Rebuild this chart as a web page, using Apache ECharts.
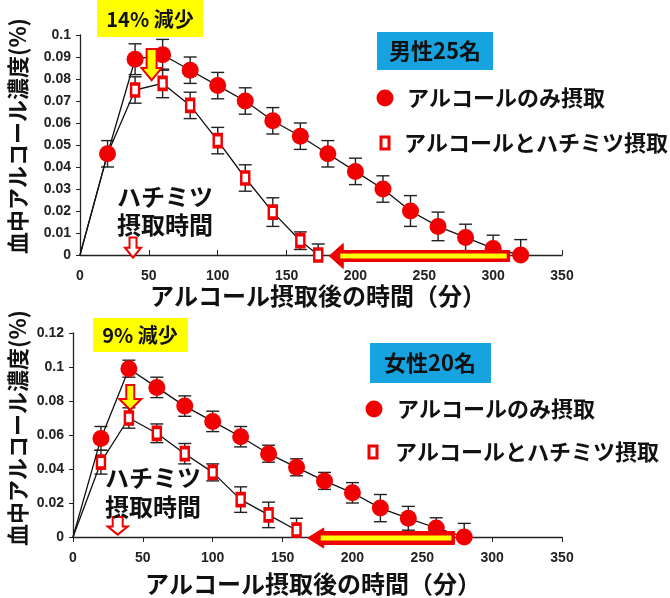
<!DOCTYPE html>
<html><head><meta charset="utf-8">
<script src="https://cdn.jsdelivr.net/npm/echarts@6/dist/echarts.min.js"></script>
<style>html,body{margin:0;padding:0;background:#fff}#c{width:670px;height:598px}</style>
</head><body><div id="c"></div>
<script>
// ---- data ----
const maleTimes = [20,40,60,80,100,120,140,160,180,200,220,240,260,280,300,320];
const maleAlcohol = [0.046,0.089,0.091,0.084,0.077,0.070,0.061,0.054,0.046,0.038,0.030,0.020,0.013,0.008,0.003,0.000];
const maleAlcoholErr = [0.006,0.007,0.007,0.006,0.006,0.006,0.006,0.006,0.006,0.006,0.006,0.007,0.0065,0.006,0.006,0.007];
const maleHoneyTimes = [20,40,60,80,100,120,140,160,173];
const maleHoney = [0.046,0.075,0.078,0.068,0.052,0.035,0.0195,0.0065,0.000];
const maleHoneyErr = [0,0.006,0.0065,0.006,0.006,0.006,0.0065,0.004,0.005];

const femaleTimes = [20,40,60,80,100,120,140,160,180,200,220,240,260,280];
const femaleAlcohol = [0.058,0.099,0.088,0.077,0.068,0.059,0.049,0.041,0.033,0.026,0.017,0.011,0.0053,0.000];
const femaleAlcoholErr = [0.007,0.005,0.006,0.006,0.006,0.006,0.005,0.005,0.005,0.006,0.008,0.007,0.006,0.008];
const femaleHoneyTimes = [20,40,60,80,100,120,140,160];
const femaleHoney = [0.044,0.070,0.061,0.049,0.038,0.022,0.013,0.004];
const femaleHoneyErr = [0.007,0.006,0.0055,0.006,0.005,0.0075,0.0075,0.007];

const groupLabels = ['男性25名','女性20名'];
const reductionLabels = ['14% 減少','9% 減少'];
const seriesNames = ['アルコールのみ摂取','アルコールとハチミツ摂取'];
const yTitle = '血中アルコール濃度(%)';
const xTitle = 'アルコール摂取後の時間（分）';
const honeyText = ['ハチミツ','摂取時間'];
// annotation anchors (data units)
const honeyIntakeTime = [38.5, 32];
const dropArrowX = [52, 41];

// ---- helpers ----
const RED = '#f00000';
const JP = '"Noto Sans CJK JP", sans-serif';
function lineData(times, vals, hideFirst){
  const d = [{value:[0,0], symbol:'none'}];
  times.forEach((t,i)=>{
    const item = {value:[t, vals[i]]};
    if (hideFirst && i===0) item.symbol = 'none';
    d.push(item);
  });
  return d;
}
function errData(times, vals, errs){
  return times.map((t,i)=>[t, vals[i], errs[i]]).filter(d=>d[2]>0);
}
function errRender(params, api){
  const x = api.value(0), y = api.value(1), e = api.value(2);
  const hi = api.coord([x, y+e]), lo = api.coord([x, y-e]);
  const w = 6.5, st = {stroke:'#222', lineWidth:1.4};
  return {type:'group', children:[
    {type:'line', shape:{x1:hi[0],y1:hi[1],x2:lo[0],y2:lo[1]}, style:st},
    {type:'line', shape:{x1:hi[0]-w,y1:hi[1],x2:hi[0]+w,y2:hi[1]}, style:st},
    {type:'line', shape:{x1:lo[0]-w,y1:lo[1],x2:lo[0]+w,y2:lo[1]}, style:st}
  ]};
}
function xAxisCfg(gi, inside){
  return {type:'value', gridIndex:gi, min:0, max:350, interval:50,
    axisLine:{show:true, onZero:false, lineStyle:{color:'#222', width:1.3}},
    axisTick:{show:true, inside:inside, length:5, lineStyle:{color:'#222'}},
    axisLabel:{color:'#222', fontFamily:'"Liberation Sans", Arial', fontWeight:'bold', fontSize:14, margin:14},
    splitLine:{show:false}};
}
function yAxisCfg(gi, max, interval){
  return {type:'value', gridIndex:gi, min:0, max:max, interval:interval,
    axisLine:{show:true, lineStyle:{color:'#222', width:1.3}},
    axisTick:{show:true, length:4, lineStyle:{color:'#222'}},
    axisLabel:{color:'#222', fontFamily:'"Liberation Sans", Arial', fontWeight:'bold', fontSize:14, margin:9,
      formatter:v=>String(parseFloat(v.toFixed(3)))},
    splitLine:{show:false}};
}
function lineSeries(name, xi, data, isHoney){
  return {type:'line', name:name, xAxisIndex:xi, yAxisIndex:xi, data:data,
    z: isHoney?3:4, animation:false,
    symbol: isHoney?'rect':'circle', symbolSize: isHoney?[8,12]:17,
    lineStyle:{color:'#111', width:1.3},
    itemStyle: isHoney?{color:'#fff', borderColor:RED, borderWidth:3}:{color:RED, borderWidth:0}};
}
function errSeries(xi, data){
  return {type:'custom', xAxisIndex:xi, yAxisIndex:xi, data:data, renderItem:errRender, z:2, clip:true, animation:false};
}

const chart = echarts.init(document.getElementById('c'), null, {renderer:'canvas'});
chart.setOption({
  backgroundColor:'#fff',
  animation:false,
  grid:[
    {left:80, top:35, width:482, height:220, outerBoundsMode:'none'},
    {left:73, top:333, width:489, height:204, outerBoundsMode:'none'}
  ],
  xAxis:[xAxisCfg(0,true), xAxisCfg(1,false)],
  yAxis:[yAxisCfg(0,0.1,0.01), yAxisCfg(1,0.12,0.02)],
  series:[
    errSeries(0, errData(maleHoneyTimes, maleHoney, maleHoneyErr)),
    errSeries(0, errData(maleTimes, maleAlcohol, maleAlcoholErr)),
    lineSeries(seriesNames[1], 0, lineData(maleHoneyTimes, maleHoney, true), true),
    lineSeries(seriesNames[0], 0, lineData(maleTimes, maleAlcohol, false), false),
    errSeries(1, errData(femaleHoneyTimes, femaleHoney, femaleHoneyErr)),
    errSeries(1, errData(femaleTimes, femaleAlcohol, femaleAlcoholErr)),
    lineSeries(seriesNames[1], 1, lineData(femaleHoneyTimes, femaleHoney, false), true),
    lineSeries(seriesNames[0], 1, lineData(femaleTimes, femaleAlcohol, false), false)
  ]
});

function px(gi, x, y){ return chart.convertToPixel({gridIndex:gi}, [x, y]); }
function downArrow(cx, yTop, yTip, sh, hh, hl, fill, stroke, lw){
  return {type:'polygon', z:20, shape:{points:[[cx-sh,yTop],[cx+sh,yTop],[cx+sh,yTip-hl],[cx+hh,yTip-hl],[cx,yTip],[cx-hh,yTip-hl],[cx-sh,yTip-hl]]},
    style:{fill:fill, stroke:stroke, lineWidth:lw, lineJoin:'miter'}};
}
function leftArrow(xTip, xEnd, yc, sh, hh, hl){
  return [
    {type:'polygon', z:20, shape:{points:[[xTip,yc],[xTip+hl,yc-hh],[xTip+hl,yc-sh],[xEnd,yc-sh],[xEnd,yc+sh],[xTip+hl,yc+sh],[xTip+hl,yc+hh]]},
      style:{fill:RED, stroke:RED, lineWidth:1}},
    {type:'rect', z:21, shape:{x:xTip+hl-3, y:yc-2.5, width:xEnd-xTip-hl, height:5}, style:{fill:'#ffff00'}}
  ];
}
function txt(x, y, s, size, opts){
  return Object.assign({type:'text', z:30, x:x, y:y, style:{text:s, fill:'#111', font:'bold '+size+'px '+JP, textAlign:'center', textVerticalAlign:'middle'}}, opts||{});
}
function box(x, y, w, h, color){ return {type:'rect', z:25, shape:{x:x,y:y,width:w,height:h}, style:{fill:color}}; }

const g = [];
// panel-wise annotations
const panels = [
  {gi:0, yb:[97,0,106,37], rc:[150,19], gb:[377,32,116,38], gc:[435,51],
   l1:[385,98,407], l2:[385,143,404], ht:[165,197,225], arr:[181,312,0,5.5,12.5,14],
   drop:[0.0936,0.0795,5,10,12], small:[0.008,-0.0012,3.5,8,10], xt:[318,296], yt:[18,136]},
  {gi:1, yb:[93,318,95,34], rc:[140,335], gb:[370,343,121,40], gc:[430,363],
   l1:[374,409,397], l2:[373,452,395], ht:[153,478,507], arr:[168,273,0,6.5,10,16],
   drop:[0.0894,0.0747,4,11,11], small:[0.0118,0.0014,5,10,8], xt:[313,584], yt:[18,428]}
];
panels.forEach((p,i)=>{
  g.push(box(p.yb[0],p.yb[1],p.yb[2],p.yb[3],'#ffff00'));
  g.push(txt(p.rc[0],p.rc[1],reductionLabels[i],20));
  g.push(box(p.gb[0],p.gb[1],p.gb[2],p.gb[3],'#17a2e0'));
  g.push(txt(p.gc[0],p.gc[1],groupLabels[i],22));
  g.push({type:'circle', z:25, shape:{cx:p.l1[0], cy:p.l1[1], r:8.5}, style:{fill:RED}});
  g.push(txt(p.l1[2],p.l1[1],seriesNames[0],22,{style:{text:seriesNames[0], fill:'#111', font:'bold 22px '+JP, textAlign:'left', textVerticalAlign:'middle'}}));
  g.push({type:'rect', z:25, shape:{x:p.l2[0]-4, y:p.l2[1]-6, width:8, height:12}, style:{fill:'#fff', stroke:RED, lineWidth:3}});
  g.push(txt(p.l2[2],p.l2[1],seriesNames[1],22,{style:{text:seriesNames[1], fill:'#111', font:'bold 22px '+JP, textAlign:'left', textVerticalAlign:'middle'}}));
  g.push(txt(p.ht[0],p.ht[1],honeyText[0],24));
  g.push(txt(p.ht[0],p.ht[2],honeyText[1],24));
  const a1 = px(p.gi, p.arr[0], p.arr[2]), a2 = px(p.gi, p.arr[1], p.arr[2]);
  leftArrow(a1[0], a2[0], a1[1]+1, p.arr[3], p.arr[4], p.arr[5]).forEach(e=>g.push(e));
  const d1 = px(p.gi, dropArrowX[i], p.drop[0]), d2 = px(p.gi, dropArrowX[i], p.drop[1]);
  g.push(downArrow(d1[0], d1[1], d2[1], p.drop[2], p.drop[3], p.drop[4], '#ffff00', RED, 2));
  const s1 = px(p.gi, honeyIntakeTime[i], p.small[0]), s2 = px(p.gi, honeyIntakeTime[i], p.small[1]);
  g.push(downArrow(s1[0], s1[1], s2[1], p.small[2], p.small[3], p.small[4], '#fff', RED, 2));
  g.push(txt(p.xt[0],p.xt[1],xTitle,24));
  g.push(txt(p.yt[0],p.yt[1],yTitle,22,{rotation:Math.PI/2}));
});
chart.setOption({graphic:g});
</script>
</body></html>
